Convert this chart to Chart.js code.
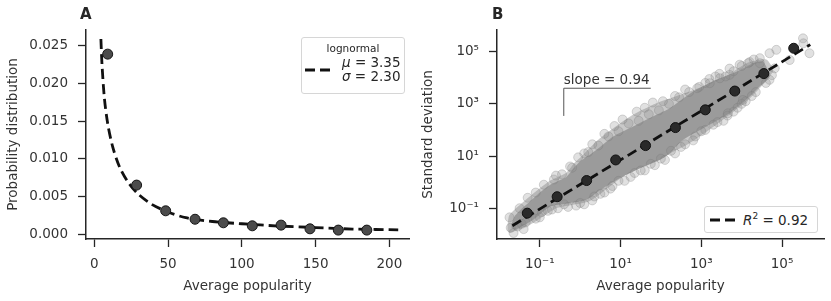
<!DOCTYPE html>
<html lang="en">
<head>
<meta charset="utf-8">
<title>Popularity</title>
<script src="https://cdn.jsdelivr.net/npm/chart.js@4.4.1/dist/chart.umd.min.js"></script>
<style>
  * { margin: 0; padding: 0; box-sizing: border-box; }
  body { width: 831px; height: 301px; position: relative; overflow: hidden; background: #fff;
         font-family: "DejaVu Sans", sans-serif; color: #262626; }
  canvas { position: absolute; top: 0; }
  #chartA { left: 0; }
  #chartB { left: 415px; }
  .letter { position: absolute; font-weight: bold; font-size: 15px; line-height: 1; }
  .legend { position: absolute; background: #fff; border: 1px solid #d6d6d6; border-radius: 3px; }
  .legend svg { position: absolute; }
  .legend .txt { position: absolute; font-size: 13.5px; line-height: 1; white-space: nowrap; color: #262626; }
</style>
</head>
<body>
<canvas id="chartA" width="415" height="301"></canvas>
<canvas id="chartB" width="416" height="301"></canvas>

<div class="letter" style="left:80px; top:7px;">A</div>
<div class="letter" style="left:492px; top:7px;">B</div>

<div class="legend" style="left:301px; top:37px; width:104px; height:57px;">
  <div class="txt" style="left:0; width:102px; text-align:center; top:5px; font-size:10.5px;">lognormal</div>
  <svg width="28" height="6" style="left:3px; top:29px;"><line x1="0" y1="3" x2="28" y2="3" stroke="#111" stroke-width="3" stroke-dasharray="10,5"/></svg>
  <div class="txt" style="left:40px; top:18px;"><i>μ</i> = 3.35</div>
  <div class="txt" style="left:40px; top:32px;"><i>σ</i> = 2.30</div>
</div>

<div class="legend" style="left:704px; top:206px; width:114px; height:27px;">
  <svg width="28" height="6" style="left:5px; top:10px;"><line x1="0" y1="3" x2="28" y2="3" stroke="#111" stroke-width="3" stroke-dasharray="10,5"/></svg>
  <div class="txt" style="left:38px; top:5px;"><i>R</i><sup style="font-size:9px;">2</sup> = 0.92</div>
</div>

<script>
// ---- panel A: distribution of average popularity ----
const popBins    = [9.1, 28.7, 48.4, 68.3, 87.5, 107.1, 126.6, 146.2, 165.4, 184.7];
const popDensity = [0.0239, 0.00653, 0.00312, 0.0020, 0.00153, 0.00113, 0.00122, 0.00073, 0.00056, 0.00056];
// lognormal fit
const fitX = [4.5, 5.2, 6.8, 9.1, 12.5, 17, 22.6, 29.4, 39.6, 50.8, 62, 80, 100, 125, 150, 175, 206];
const fitY = [0.0259, 0.0227, 0.0182, 0.0147, 0.0116, 0.0090, 0.0070, 0.0054, 0.0039, 0.0029,
              0.0022, 0.0017, 0.0014, 0.0011, 0.0009, 0.0007, 0.0006];
const xTicksA = [0, 50, 100, 150, 200];
const yTicksA = [0, 0.005, 0.010, 0.015, 0.020, 0.025];

// ---- panel B: std vs mean (log10 units) ----
const binLogX = [-1.31, -0.57, 0.16, 0.88, 1.62, 2.36, 3.10, 3.83, 4.55, 5.29];
const binLogY = [-1.19, -0.56, 0.06, 0.85, 1.40, 2.09, 2.77, 3.49, 4.16, 5.13];
const regLogX = [-1.68, 5.70];
const regLogY = [-1.67, 5.27];
// dense part of the cloud: upper edge left->right, then lower edge right->left
const cloudUpper = [[-1.70,-1.60],[-1.62,-1.30],[-1.45,-1.02],[-1.25,-0.75],[-1.00,-0.40],[-0.75,-0.11],
  [-0.50,0.08],[-0.34,0.20],[-0.15,0.55],[-0.01,0.78],[0.40,1.23],[0.81,1.74],[1.31,2.13],[1.89,2.58],
  [2.22,2.83],[2.80,3.47],[3.37,3.92],[3.87,4.23],[4.28,4.56],[4.53,4.62]];
const cloudLower = [[4.69,4.04],[4.40,3.60],[4.20,3.28],[3.70,2.64],[3.13,2.13],[2.55,1.62],[2.22,1.10],
  [1.97,0.85],[1.48,0.53],[0.98,0.15],[0.57,-0.23],[0.16,-0.68],[-0.26,-0.81],[-0.75,-0.94],[-1.17,-1.45],
  [-1.62,-1.83],[-1.70,-1.75]];
// sparser outer halo of the cloud
const haloUpper = [[-1.80,-1.65],[-1.75,-1.25],[-1.25,-0.55],[-0.75,0.05],[-0.35,0.35],[-0.15,0.72],
  [-0.01,0.92],[0.49,1.68],[1.23,2.51],[1.89,3.02],[2.71,3.47],[3.54,3.99],[4.12,4.56],[4.61,4.70]];
const haloLower = [[4.78,4.25],[4.20,3.20],[3.54,2.39],[2.71,1.49],[1.89,0.85],[1.06,0.21],[0.24,-0.72],
  [-0.59,-1.00],[-1.20,-1.60],[-1.74,-1.95],[-1.80,-1.85]];
// loose points around the edge of the cloud
const cloudEdge = [
  [-1.72,-1.75],[-1.65,-1.95],[-1.55,-1.70],[-1.45,-1.60],[-1.35,-1.55],[-1.10,-1.40],[-0.95,-1.15],
  [-0.80,-1.10],[-0.55,-1.00],[-0.30,-0.95],[-0.10,-0.90],[0.10,-0.85],[0.35,-0.55],[0.60,-0.40],
  [0.80,-0.15],[1.10,0.05],[1.35,0.35],[1.60,0.45],[1.85,0.65],[2.10,0.85],[2.35,1.10],[2.60,1.45],
  [2.85,1.75],[3.10,2.00],[3.40,2.30],[3.65,2.55],[3.90,2.85],[4.10,3.10],[4.35,3.45],[4.60,3.80],
  [4.75,4.10],
  [-1.75,-1.35],[-1.50,-1.00],[-1.30,-0.60],[-1.10,-0.40],[-0.90,-0.10],[-0.65,0.10],[-0.45,0.30],
  [-0.20,0.55],[-0.05,0.95],[0.20,1.15],[0.45,1.40],[0.70,1.75],[0.95,1.95],[1.20,2.25],[1.45,2.35],
  [1.70,2.60],[1.95,2.75],[2.20,3.00],[2.45,3.25],[2.70,3.45],[2.95,3.65],[3.20,3.95],[3.45,4.15],
  [3.70,4.35],[3.95,4.50],[4.20,4.60],[4.45,4.75],
  [-0.60,0.25],[-0.25,0.60],[0.10,1.10],[0.30,1.45],[0.60,1.85],[0.85,2.15],[1.05,2.40],[1.40,2.70],
  [1.60,2.85],[1.80,3.05],[2.05,3.10],[2.35,3.30],[2.60,3.55],[2.90,3.60],[3.10,3.80],[3.35,4.05],
  [3.60,4.05],[3.80,4.25],[4.00,4.45],[4.30,4.70],
  [-1.40,-1.80],[-1.00,-1.35],[-0.70,-1.05],[-0.40,-0.85],[0.00,-0.80],[0.30,-0.70],[0.50,-0.45],
  [0.75,-0.25],[0.95,0.05],[1.25,0.20],[1.50,0.45],[1.75,0.70],[2.00,0.90],[2.25,1.20],[2.50,1.35],
  [2.80,1.60],[3.00,1.95],[3.30,2.20],[3.55,2.35],[3.80,2.70],[4.00,3.00],[4.25,3.30],
  [4.69,4.94],[4.86,5.07],[4.16,4.56],[4.45,4.56],[5.19,4.68],[5.52,5.51],[5.68,4.94],[5.53,5.32],
  [4.69,3.92],[4.82,4.36],[3.21,3.79],[3.46,3.98],[3.70,4.11],[3.66,2.64],[4.03,3.15]];
const slopeLogX = [-0.406, -0.406, 1.748];
const slopeLogY = [2.537, 3.598, 3.598];
const slopeText = 'slope = 0.94';
const xTicksB = [-1, 1, 3, 5];
const yTicksB = [-1, 1, 3, 5];
const supDigits = { '-': '⁻', '0': '⁰', '1': '¹', '2': '²', '3': '³', '4': '⁴', '5': '⁵', '6': '⁶', '7': '⁷', '8': '⁸', '9': '⁹' };

const ink = '#262626';
const font = { family: 'DejaVu Sans', size: 13.5 };
const pow10 = v => Math.pow(10, v);
const toXY = (xs, ys) => xs.map((x, i) => ({ x: x, y: ys[i] }));
const logPairs = pairs => pairs.map(p => ({ x: pow10(p[0]), y: pow10(p[1]) }));
const powLabel = e => '10' + String(e).split('').map(c => supDigits[c]).join('');

function axis(opts) {
  return Object.assign({
    border: { display: true, color: ink, width: 1.5 },
    grid: { drawOnChartArea: false, drawTicks: true, tickLength: 8, tickWidth: 1.3, tickColor: ink }
  }, opts);
}
const xTickFont = { color: '#333', font: font, padding: 9, autoSkip: false, maxRotation: 0 };
const yTickFont = { color: '#333', font: font, padding: 10, autoSkip: false };

const common = {
  responsive: false,
  animation: false,
  events: [],
  plugins: { legend: { display: false }, tooltip: { enabled: false } }
};

new Chart(document.getElementById('chartA'), {
  type: 'line',
  data: {
    datasets: [
      { data: toXY(popBins, popDensity), showLine: false, pointRadius: 5,
        pointBackgroundColor: '#4b4b4b', pointBorderColor: '#151515', pointBorderWidth: 1, order: 1 },
      { data: toXY(fitX, fitY), borderColor: '#111', borderWidth: 2.8, borderDash: [10, 5],
        pointRadius: 0, tension: 0.3, fill: false, order: 2 }
    ]
  },
  options: Object.assign({}, common, {
    layout: { padding: { top: 30, right: 6, left: 0, bottom: 0 } },
    scales: {
      x: axis({
        type: 'linear', min: -5.6, max: 213.3,
        afterBuildTicks: s => { s.ticks = xTicksA.map(v => ({ value: v })); },
        afterFit: s => { s.height = 62; },
        ticks: xTickFont,
        title: { display: true, text: 'Average popularity', color: '#333', font: font, padding: { top: 0, bottom: 6 } }
      }),
      y: axis({
        type: 'linear', min: -0.00062, max: 0.0271,
        afterBuildTicks: s => { s.ticks = yTicksA.map(v => ({ value: v })); },
        afterFit: s => { s.width = 86; },
        ticks: Object.assign({}, yTickFont, { callback: v => v.toFixed(3) }),
        title: { display: true, text: 'Probability distribution', color: '#333', font: font, padding: { top: 5, bottom: 0 } }
      })
    }
  })
});

const slopeLabel = {
  id: 'slopeLabel',
  afterDatasetsDraw(chart) {
    const { ctx, scales } = chart;
    const px = scales.x.getPixelForValue(pow10(slopeLogX[1]));
    const py = scales.y.getPixelForValue(pow10(slopeLogY[1]));
    ctx.save();
    ctx.font = '13.5px "DejaVu Sans"';
    ctx.fillStyle = '#333';
    ctx.textBaseline = 'bottom';
    ctx.fillText(slopeText, px, py - 1);
    ctx.restore();
  }
};

new Chart(document.getElementById('chartB'), {
  type: 'line',
  data: {
    datasets: [
      { data: logPairs(binLogX.map((x, i) => [x, binLogY[i]])), showLine: false,
        pointRadius: 5, pointBackgroundColor: '#2a2a2a', pointBorderColor: '#111', pointBorderWidth: 1, order: 1 },
      { data: logPairs(regLogX.map((x, i) => [x, regLogY[i]])), borderColor: '#111',
        borderWidth: 2.8, borderDash: [10, 5], pointRadius: 0, fill: false, order: 2 },
      { data: logPairs(slopeLogX.map((x, i) => [x, slopeLogY[i]])), borderColor: '#555',
        borderWidth: 1, pointRadius: 0, fill: false, order: 3 },
      { data: logPairs(cloudEdge), showLine: false, pointRadius: 4.5,
        pointBackgroundColor: 'rgba(135,135,135,0.25)', pointBorderColor: 'rgba(120,120,120,0.28)', pointBorderWidth: 1, order: 4 },
      { data: logPairs(cloudUpper.concat(cloudLower)), showLine: true, fill: 'shape', borderWidth: 0,
        borderColor: 'rgba(0,0,0,0)', backgroundColor: '#9b9b9b', pointRadius: 0, tension: 0.2, order: 5 },
      { data: logPairs(haloUpper.concat(haloLower)), showLine: true, fill: 'shape', borderWidth: 0,
        borderColor: 'rgba(0,0,0,0)', backgroundColor: '#c9c9c9', pointRadius: 0, tension: 0.2, order: 6 }
    ]
  },
  options: Object.assign({}, common, {
    layout: { padding: { top: 30, right: 7, left: 0, bottom: 0 } },
    scales: {
      x: axis({
        type: 'logarithmic', min: pow10(-2.06), max: pow10(6.04),
        afterBuildTicks: s => { s.ticks = xTicksB.map(v => ({ value: pow10(v) })); },
        afterFit: s => { s.height = 62; },
        ticks: Object.assign({}, xTickFont, { callback: (v, i) => powLabel(xTicksB[i]) }),
        title: { display: true, text: 'Average popularity', color: '#333', font: font, padding: { top: 0, bottom: 6 } }
      }),
      y: axis({
        type: 'logarithmic', min: pow10(-2.18), max: pow10(5.83),
        afterBuildTicks: s => { s.ticks = yTicksB.map(v => ({ value: pow10(v) })); },
        afterFit: s => { s.width = 82; },
        ticks: Object.assign({}, yTickFont, { callback: (v, i) => powLabel(yTicksB[i]) }),
        title: { display: true, text: 'Standard deviation', color: '#333', font: font, padding: { top: 5, bottom: 0 } }
      })
    }
  }),
  plugins: [slopeLabel]
});
</script>
</body>
</html>
